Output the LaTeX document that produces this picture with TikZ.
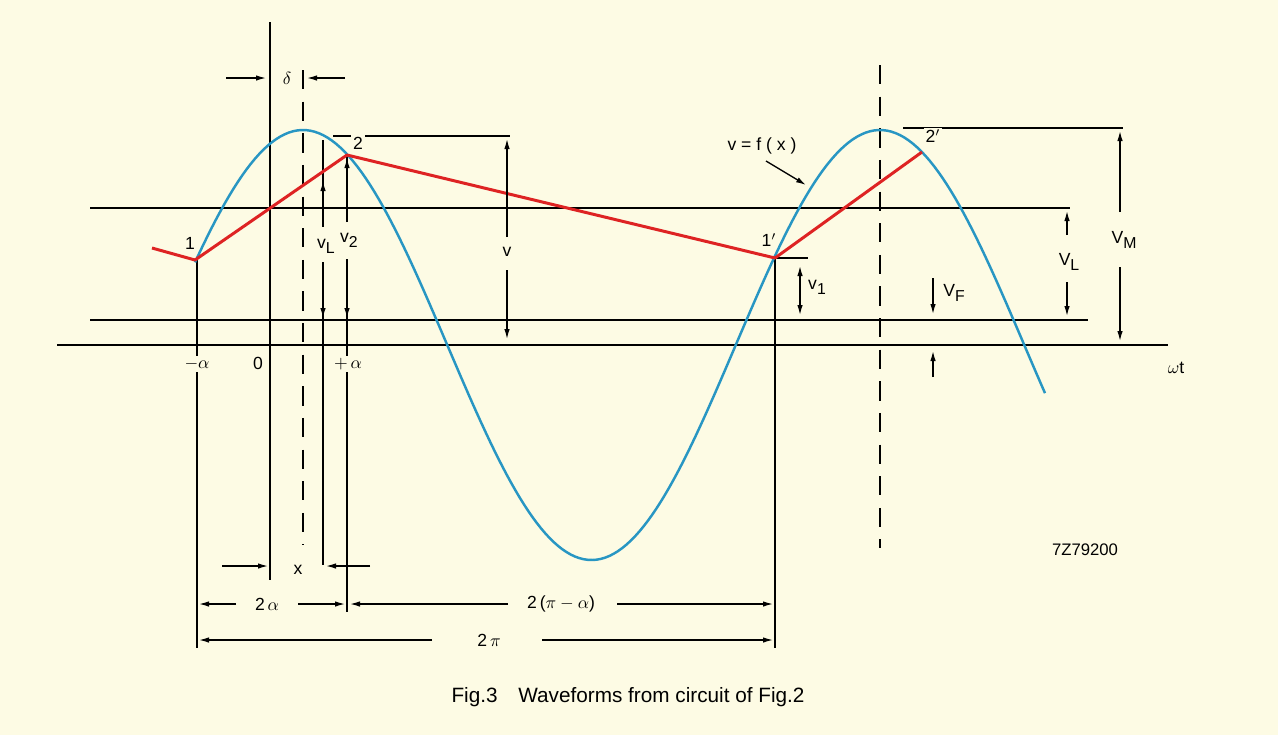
\documentclass[tikz,border=0pt]{standalone}
\usepackage{fontspec}
\setmainfont{Liberation Sans}
\usepackage{tikz}
\usetikzlibrary{arrows.meta,calc,positioning}
\definecolor{bgcol}{RGB}{253,251,228}
\definecolor{sinecol}{RGB}{40,150,195}
\definecolor{redcol}{RGB}{222,35,35}
\newcommand{\lowsub}[1]{\raisebox{-0.55ex}{\small #1}}

\begin{document}
\begin{tikzpicture}[x=0.02cm,y=-0.02cm,
every node/.style={font=\fontsize{10}{12}\selectfont, inner sep=1pt},
thinline/.style={line width=0.75pt},
dashline/.style={line width=0.85pt, dash pattern=on 11pt off 7pt},
dimarr/.style={line width=0.75pt,-{Latex[length=2mm,width=1.1mm]}},
dimboth/.style={line width=0.75pt,{Latex[length=2mm,width=1.1mm]}-{Latex[length=2mm,width=1.1mm]}},
gap/.style={fill=bgcol},
sine/.style={sinecol, line width=1.4pt},
redline/.style={redcol, line width=1.7pt, line join=round}]
\useasboundingbox (0,0) rectangle (1278,735);
\fill[bgcol] (0,0) rectangle (1278,735);

\coordinate (P0) at (152,248);
\coordinate (P1) at (195,260);
\coordinate (P2) at (347,155);
\coordinate (Q1) at (775,258);
\coordinate (Q2) at (922,152);

\draw[thinline] (57,345)--(1168,345);
\draw[thinline] (90,208)--(1070,208);
\draw[thinline] (90,320)--(1088,320);
\draw[thinline] (333,136)--(510,136);
\draw[thinline] (903,128)--(1123,128);
\draw[thinline] (Q1)--(808,258);

\draw[thinline] (270,22)--(270,580);
\draw[thinline] (197,260)--(197,648);
\draw[thinline] (323,140)--(323,565);
\draw[thinline] (P2)--(347,612);
\draw[thinline] (Q1)--(775,648);
\draw[dashline] (303,70)--(303,545);
\draw[dashline] (880,65)--(880,548);

\node[gap] (L1) at (190,243) {1};
\node[gap] (L2) at (358,143) {2};
\node[gap] (L1p) at (769,240) {1$'$};
\node[gap] (L2p) at (933,136) {2$'$};

\draw[sine, domain=195:1045, samples=200] plot (\x,{345-215*cos((\x-303)/577*360)});
\draw[redline] (P0)--(P1)--(P2)--(Q1)--(Q2);

\node[gap] (am) at (197,364) {$-\alpha$};
\node (zero) at (258,363) {0};
\node[gap] (ap) at (348,364) {$+\,\alpha$};
\node (wt) at (1176,368) {$\omega$t};

\node (dl) at (287,78) {$\delta$};
\draw[dimarr] (226,78)--(266,78);
\draw[dimarr] (345,78)--(307,78);

\node[gap, minimum height=22pt] (vL) at (326,246) {v\lowsub{L}};
\draw[dimarr] (323,226)--(323,181);
\draw[dimarr] (323,262)--(323,318);
\node[gap, minimum height=22pt] (v2) at (349,240) {v\lowsub{2}};
\draw[dimarr] (347,222)--(347,158);
\draw[dimarr] (347,260)--(347,318);

\node (v) at (507,252) {v};
\draw[dimarr] (507,237)--(507,139);
\draw[dimarr] (507,270)--(507,339);

\draw[dimboth] (800,266)--(800,315);
\node (v1) at (817,287) {v\lowsub{1}};

\node (fx) at (762,146) {v = f ( x )};
\draw[dimarr] (766,161)--(806,185);

\node (VF) at (954,293) {V\lowsub{F}};
\draw[dimarr] (933,278)--(933,314);
\draw[dimarr] (933,377)--(933,351);

\node (VL) at (1069,262) {V\lowsub{L}};
\draw[dimarr] (1067,235)--(1067,211);
\draw[dimarr] (1067,282)--(1067,316);

\node (VM) at (1124,240) {V\lowsub{M}};
\draw[dimarr] (1120,212)--(1120,131);
\draw[dimarr] (1120,267)--(1120,341);

\node (xl) at (298,570) {x};
\draw[dimarr] (222,566)--(268,566);
\draw[dimarr] (370,566)--(326,566);

\node (ta) at (267,604) {2\,$\alpha$};
\draw[dimarr] (236,604)--(199,604);
\draw[dimarr] (298,604)--(345,604);
\node (tpa) at (561,604) {2\,($\pi-\alpha$)};
\draw[dimarr] (508,604)--(350,604);
\draw[dimarr] (617,604)--(773,604);
\node (tp) at (489,640) {2\,$\pi$};
\draw[dimarr] (432,640)--(199,640);
\draw[dimarr] (542,640)--(773,640);

\node[font=\fontsize{9.5}{11}\selectfont] (code) at (1085,550) {7Z79200};
\node[font=\fontsize{11.8}{14}\selectfont] (cap) at (628,697) {Fig.3\quad Waveforms from circuit of Fig.2};
\end{tikzpicture}
\end{document}
